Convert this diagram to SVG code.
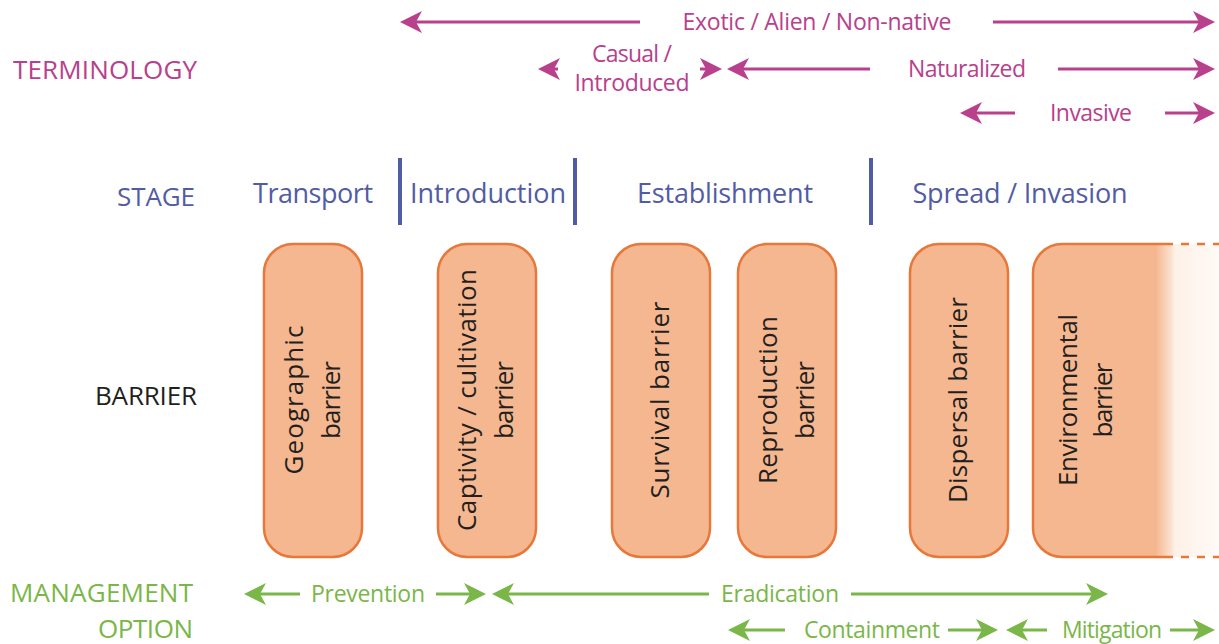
<svg xmlns="http://www.w3.org/2000/svg" width="1219" height="644" viewBox="0 0 1219 644">
<style>
text{font-family:"Open Sans","Noto Sans",sans-serif;}
.mag{fill:#b8408c;font-size:23px;}
.blu{fill:#525ca4;font-size:27px;}
.grn{fill:#7ab648;font-size:23px;}
.hdr{font-size:26px;text-anchor:end;}
.mid{text-anchor:middle;}
.box{fill:#f5b78f;stroke:#e8773a;stroke-width:2.5;}
.btx{fill:#231f20;font-size:26px;text-anchor:middle;}
.ml{stroke:#b8408c;stroke-width:3;fill:none;}
.gl{stroke:#7ab648;stroke-width:3;fill:none;}
.div{stroke:#525ca4;stroke-width:4;}
</style>
<defs>
<marker id="am" viewBox="-23 -12 24 24" refX="-10" refY="0" markerWidth="24" markerHeight="24" markerUnits="userSpaceOnUse" orient="auto-start-reverse">
<path d="M0,0 L-22,-11 L-16,0 L-22,11 Z" fill="#b8408c"/>
</marker>
<marker id="ag" viewBox="-23 -12 24 24" refX="-10" refY="0" markerWidth="24" markerHeight="24" markerUnits="userSpaceOnUse" orient="auto-start-reverse">
<path d="M0,0 L-22,-11 L-16,0 L-22,11 Z" fill="#7ab648"/>
</marker>
<linearGradient id="fade" gradientUnits="userSpaceOnUse" x1="1033" y1="0" x2="1219" y2="0">
<stop offset="0" stop-color="#f5b78f"/>
<stop offset="0.66" stop-color="#f5b78f"/>
<stop offset="0.745" stop-color="#fbe3d2"/>
<stop offset="0.76" stop-color="#fdf1e7"/>
<stop offset="1" stop-color="#fffaf6"/>
</linearGradient>
</defs>

<g id="row-labels">
<text class="hdr" x="197" y="79" fill="#b8408c" textLength="184">TERMINOLOGY</text>
<text class="hdr" x="195" y="206" fill="#525ca4" textLength="78">STAGE</text>
<text class="hdr" x="197" y="405" fill="#231f20" textLength="102">BARRIER</text>
<text class="hdr" x="193" y="602" fill="#7ab648" textLength="183">MANAGEMENT</text>
<text class="hdr" x="193" y="638" fill="#7ab648" textLength="95">OPTION</text>
</g>

<g id="terminology-labels">
<text class="mag mid" x="817" y="30" textLength="269">Exotic / Alien / Non-native</text>
<text class="mag mid" x="632" y="62" textLength="80">Casual /</text>
<text class="mag mid" x="632" y="91" textLength="115">Introduced</text>
<text class="mag mid" x="967" y="77" textLength="118">Naturalized</text>
<text class="mag mid" x="1091" y="121" textLength="82">Invasive</text>
</g>

<g id="stages">
<text class="blu mid" x="313" y="203" textLength="120">Transport</text>
<text class="blu mid" x="488" y="203" textLength="156">Introduction</text>
<text class="blu mid" x="725" y="203" textLength="176">Establishment</text>
<text class="blu mid" x="1020" y="203" textLength="215">Spread / Invasion</text>
<line class="div" x1="400" y1="158" x2="400" y2="225"/>
<line class="div" x1="575" y1="158" x2="575" y2="225"/>
<line class="div" x1="871" y1="158" x2="871" y2="225"/>
</g>

<g id="barrier-geographic">
<rect class="box" x="264" y="244" width="98" height="313" rx="29"/>
<text class="btx" transform="translate(313,400) rotate(-90)"><tspan x="0" y="-10" textLength="149">Geographic</tspan><tspan x="0" y="27" textLength="78">barrier</tspan></text>
</g>
<g id="barrier-captivity">
<rect class="box" x="438" y="244" width="98" height="313" rx="29"/>
<text class="btx" transform="translate(487,400) rotate(-90)"><tspan x="0" y="-11" textLength="262">Captivity / cultivation</tspan><tspan x="0" y="26" textLength="78">barrier</tspan></text>
</g>
<g id="barrier-survival">
<rect class="box" x="612" y="244" width="98" height="313" rx="29"/>
<text class="btx" transform="translate(661,400) rotate(-90)"><tspan x="0" y="8" textLength="197">Survival barrier</tspan></text>
</g>
<g id="barrier-reproduction">
<rect class="box" x="738" y="244" width="98" height="313" rx="29"/>
<text class="btx" transform="translate(787,400) rotate(-90)"><tspan x="0" y="-10" textLength="168">Reproduction</tspan><tspan x="0" y="27" textLength="78">barrier</tspan></text>
</g>
<g id="barrier-dispersal">
<rect class="box" x="910" y="244" width="98" height="313" rx="29"/>
<text class="btx" transform="translate(959,400) rotate(-90)"><tspan x="0" y="8" textLength="206">Dispersal barrier</tspan></text>
</g>
<g id="barrier-environmental">
<path d="M1219,244 H1062 A29,29 0 0 0 1033,273 V528 A29,29 0 0 0 1062,557 H1219 Z" fill="url(#fade)"/>
<path d="M1173,244 H1062 A29,29 0 0 0 1033,273 V528 A29,29 0 0 0 1062,557 H1173" fill="none" stroke="#e8773a" stroke-width="2.5"/>
<path d="M1181,244 H1219 M1181,557 H1219" fill="none" stroke="#e8773a" stroke-width="2.5" stroke-dasharray="8 8"/>
<text class="btx" transform="translate(1083,400) rotate(-90)"><tspan x="0" y="-6" textLength="172">Environmental</tspan><tspan x="0" y="29" textLength="75">barrier</tspan></text>
</g>

<g id="management-labels">
<text class="grn mid" x="368" y="602" textLength="114">Prevention</text>
<text class="grn mid" x="780" y="602" textLength="118">Eradication</text>
<text class="grn mid" x="872" y="638" textLength="136">Containment</text>
<text class="grn mid" x="1112" y="638" textLength="100">Mitigation</text>
</g>

<g id="connectors">
<line class="ml" x1="410" y1="22" x2="640" y2="22" marker-start="url(#am)"/>
<line class="ml" x1="993" y1="22" x2="1205" y2="22" marker-end="url(#am)"/>
<line class="ml" x1="548" y1="69" x2="558" y2="69" marker-start="url(#am)"/>
<line class="ml" x1="700" y1="69" x2="712" y2="69" marker-end="url(#am)"/>
<line class="ml" x1="737" y1="69" x2="870" y2="69" marker-start="url(#am)"/>
<line class="ml" x1="1058" y1="69" x2="1205" y2="69" marker-end="url(#am)"/>
<line class="ml" x1="970" y1="113" x2="1015" y2="113" marker-start="url(#am)"/>
<line class="ml" x1="1165" y1="113" x2="1205" y2="113" marker-end="url(#am)"/>

<line class="gl" x1="254" y1="594" x2="300" y2="594" marker-start="url(#ag)"/>
<line class="gl" x1="436" y1="594" x2="476" y2="594" marker-end="url(#ag)"/>
<line class="gl" x1="502" y1="594" x2="709" y2="594" marker-start="url(#ag)"/>
<line class="gl" x1="851" y1="594" x2="1098" y2="594" marker-end="url(#ag)"/>
<line class="gl" x1="738" y1="630" x2="785" y2="630" marker-start="url(#ag)"/>
<line class="gl" x1="948" y1="630" x2="988" y2="630" marker-end="url(#ag)"/>
<line class="gl" x1="1016" y1="630" x2="1047" y2="630" marker-start="url(#ag)"/>
<line class="gl" x1="1170" y1="630" x2="1205" y2="630" marker-end="url(#ag)"/>
</g>
</svg>
